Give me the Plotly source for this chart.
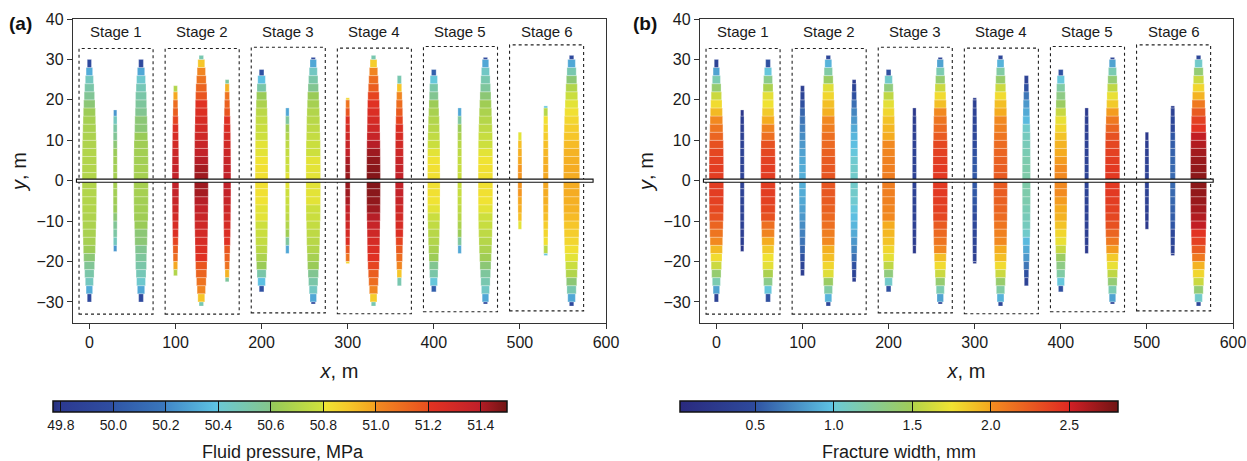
import plotly.graph_objects as go

# ---------------- data ----------------
stage_names = ["Stage 1", "Stage 2", "Stage 3", "Stage 4", "Stage 5", "Stage 6"]
stage_x = [0, 100, 200, 300, 400, 500]          # m, first fracture of each stage
frac_offset = [0, 30, 60]                        # m, fracture spacing inside a stage
half_length = [[30, 17.5, 30], [23.5, 31, 25], [27.5, 18, 30.5],
               [20.5, 31, 26], [27.5, 18, 30.5], [12, 18.5, 31]]
level_step = 2.0   # m, values below are given for |y| in [0,2), [2,4), ... up to the tip

# fluid pressure (MPa), centre -> tip
pressure = [
    [[50.70, 50.70, 50.70, 50.70, 50.69, 50.68, 50.67, 50.66, 50.63, 50.60, 50.57, 50.52, 50.46, 50.32, 49.95],
     [50.66, 50.65, 50.64, 50.62, 50.60, 50.57, 50.53, 50.46, 50.25],
     [50.66, 50.66, 50.65, 50.65, 50.64, 50.62, 50.60, 50.60, 50.58, 50.55, 50.52, 50.48, 50.42, 50.30, 49.95]],
    [[51.38, 51.37, 51.35, 51.33, 51.30, 51.27, 51.24, 51.20, 51.15, 51.10, 50.98, 50.70],
     [51.43, 51.42, 51.40, 51.38, 51.35, 51.32, 51.30, 51.27, 51.24, 51.22, 51.18, 51.13, 51.08, 51.02, 50.90, 50.50],
     [51.38, 51.37, 51.35, 51.33, 51.30, 51.28, 51.25, 51.22, 51.18, 51.14, 51.08, 50.95, 50.55]],
    [[50.82, 50.82, 50.81, 50.80, 50.80, 50.79, 50.78, 50.76, 50.73, 50.68, 50.62, 50.52, 50.38, 50.00],
     [50.80, 50.79, 50.78, 50.76, 50.74, 50.70, 50.64, 50.55, 50.30],
     [50.80, 50.80, 50.80, 50.79, 50.78, 50.76, 50.74, 50.72, 50.70, 50.66, 50.62, 50.58, 50.52, 50.45, 50.30, 49.95]],
    [[51.44, 51.43, 51.41, 51.38, 51.35, 51.32, 51.28, 51.24, 51.18, 51.08, 50.85],
     [51.47, 51.46, 51.45, 51.43, 51.40, 51.36, 51.32, 51.28, 51.25, 51.22, 51.20, 51.15, 51.10, 51.02, 50.88, 50.50],
     [51.38, 51.37, 51.35, 51.32, 51.30, 51.27, 51.24, 51.20, 51.16, 51.10, 51.02, 50.90, 50.50]],
    [[50.82, 50.82, 50.81, 50.80, 50.78, 50.75, 50.72, 50.70, 50.67, 50.63, 50.58, 50.52, 50.40, 50.05],
     [50.78, 50.77, 50.76, 50.74, 50.72, 50.68, 50.62, 50.55, 50.30],
     [50.82, 50.82, 50.81, 50.80, 50.79, 50.77, 50.74, 50.71, 50.68, 50.64, 50.60, 50.55, 50.50, 50.44, 50.30, 49.95]],
    [[51.00, 51.00, 50.98, 50.96, 50.92, 50.80],
     [50.98, 50.97, 50.96, 50.94, 50.92, 50.88, 50.85, 50.82, 50.72, 50.40],
     [50.97, 50.97, 50.96, 50.95, 50.93, 50.90, 50.88, 50.85, 50.82, 50.80, 50.78, 50.70, 50.60, 50.50, 50.30, 49.95]],
]

# fracture width (mm), centre -> tip
aperture = [
    [[2.40, 2.40, 2.38, 2.35, 2.30, 2.20, 2.12, 2.02, 1.92, 1.78, 1.60, 1.40, 1.15, 0.85, 0.40],
     [0.38, 0.38, 0.37, 0.37, 0.36, 0.35, 0.33, 0.30, 0.22],
     [2.40, 2.40, 2.38, 2.35, 2.30, 2.15, 2.05, 1.98, 1.85, 1.75, 1.70, 1.50, 1.30, 1.00, 0.50]],
    [[0.90, 0.89, 0.87, 0.84, 0.80, 0.75, 0.70, 0.64, 0.57, 0.50, 0.42, 0.33],
     [2.28, 2.27, 2.25, 2.22, 2.18, 2.15, 2.08, 2.02, 1.96, 1.90, 1.80, 1.68, 1.45, 1.20, 0.92, 0.45],
     [1.05, 1.05, 1.03, 1.00, 0.97, 0.93, 0.88, 0.80, 0.72, 0.62, 0.50, 0.40, 0.32]],
    [[2.08, 2.07, 2.06, 2.04, 2.02, 1.98, 1.93, 1.88, 1.80, 1.70, 1.55, 1.35, 1.05, 0.50],
     [0.38, 0.38, 0.37, 0.37, 0.36, 0.35, 0.33, 0.30, 0.24],
     [2.42, 2.42, 2.40, 2.38, 2.35, 2.25, 2.18, 2.12, 2.02, 1.90, 1.78, 1.60, 1.40, 1.15, 0.85, 0.40]],
    [[0.52, 0.52, 0.51, 0.50, 0.49, 0.47, 0.45, 0.42, 0.38, 0.34, 0.27],
     [2.25, 2.24, 2.22, 2.20, 2.17, 2.12, 2.06, 2.02, 1.98, 1.90, 1.78, 1.60, 1.42, 1.20, 0.92, 0.45],
     [1.18, 1.17, 1.16, 1.14, 1.12, 1.10, 1.05, 0.95, 0.88, 0.80, 0.65, 0.50, 0.38]],
    [[2.02, 2.01, 2.00, 1.98, 1.95, 1.88, 1.80, 1.72, 1.58, 1.45, 1.32, 1.20, 1.00, 0.50],
     [0.40, 0.40, 0.39, 0.38, 0.37, 0.36, 0.34, 0.31, 0.25],
     [2.42, 2.42, 2.40, 2.38, 2.35, 2.30, 2.20, 2.10, 2.00, 1.85, 1.72, 1.55, 1.38, 1.15, 0.85, 0.40]],
    [[0.38, 0.37, 0.36, 0.34, 0.30, 0.24],
     [0.60, 0.59, 0.58, 0.56, 0.54, 0.51, 0.47, 0.43, 0.37, 0.30],
     [2.72, 2.70, 2.68, 2.65, 2.60, 2.55, 2.45, 2.38, 2.25, 2.10, 1.95, 1.80, 1.60, 1.38, 1.05, 0.45]],
]

box_top = [32.7, 32.7, 33.0, 32.8, 33.2, 33.6]
box_bottom = [-33.0, -33.0, -32.7, -32.9, -32.4, -32.2]

pressure_ticks = [49.8, 50.0, 50.2, 50.4, 50.6, 50.8, 51.0, 51.2, 51.4]
width_ticks = [0.5, 1.0, 1.5, 2.0, 2.5]

# ---------------- style ----------------
FONT = "Liberation Sans, Arial, Helvetica, sans-serif"
W_BASE, W_PER_MM = 2.5, 6.0     # drawn cell width (m on x axis) from fracture width
BOX_L, BOX_R = -12, 74          # dashed stage box extents relative to stage start
LABEL_DX, LABEL_Y = 31, 36.8

cs_pressure = [
    [0.000, "#27307a"], [0.017, "#2c3a91"], [0.132, "#2f4ea1"], [0.136, "#3057a7"],
    [0.247, "#3a78bd"], [0.251, "#4289c8"], [0.362, "#5ec5e4"], [0.366, "#6cc8d3"],
    [0.478, "#84c58b"], [0.482, "#95c95a"], [0.593, "#cfe03c"], [0.597, "#f0e534"],
    [0.650, "#f6c82a"], [0.709, "#f5a21f"], [0.713, "#f28a21"], [0.825, "#e8501f"],
    [0.829, "#e33322"], [0.940, "#c0202a"], [0.944, "#b01c24"], [1.000, "#701414"],
]
cs_width = [
    [0.000, "#2a2a7e"], [0.170, "#2e4a9c"], [0.174, "#3055a4"], [0.349, "#5ec4e4"],
    [0.353, "#6ccad6"], [0.528, "#a0cc58"], [0.532, "#b4d449"], [0.620, "#f0e232"],
    [0.708, "#f5a81e"], [0.712, "#f28c20"], [0.887, "#e02a22"], [0.891, "#d01f25"],
    [1.000, "#701414"],
]


def build_cells(values):
    xs, bases, hs, ws, cs = [], [], [], [], []
    for s in range(len(stage_x)):
        for f in range(len(frac_offset)):
            xc = stage_x[s] + frac_offset[f]
            L = half_length[s][f]
            for k, (v, a) in enumerate(zip(values[s][f], aperture[s][f])):
                lo = k * level_step
                hi = min((k + 1) * level_step, L)
                for b0 in (lo, -hi):
                    xs.append(xc)
                    bases.append(b0)
                    hs.append(hi - lo)
                    ws.append(W_BASE + W_PER_MM * a)
                    cs.append(v)
    return xs, bases, hs, ws, cs


fig = go.Figure()
for values, ax, cax in ((pressure, "", "coloraxis"), (aperture, "2", "coloraxis2")):
    xs, bases, hs, ws, cs = build_cells(values)
    fig.add_trace(go.Bar(
        x=xs, y=hs, base=bases, width=ws,
        marker=dict(color=cs, coloraxis=cax,
                    line=dict(color="rgba(255,255,255,0.55)", width=0.5)),
        xaxis="x" + ax, yaxis="y" + ax, hoverinfo="skip", showlegend=False,
    ))

W, H = 1247, 461
ydom = [1 - 323 / H, 1 - 19 / H]
axis_common = dict(showline=True, mirror=True, linecolor="#333333", linewidth=1.3,
                   ticks="outside", ticklen=5, tickwidth=1.2, tickcolor="#333333",
                   showgrid=False, zeroline=False, automargin=False,
                   tickfont=dict(size=16, color="#1a1a1a", family=FONT))


def colorbar(xc, length, ticks):
    return dict(orientation="h", x=xc / W, xanchor="center", y=1 - 401 / H, yanchor="top",
                len=length / W, lenmode="fraction", thickness=11, thicknessmode="pixels",
                xpad=0, ypad=0, outlinewidth=1.5, outlinecolor="#111111",
                tickvals=ticks, ticktext=[f"{v:.1f}" for v in ticks],
                ticks="inside", ticklen=11, tickwidth=1.2, tickcolor="#111111",
                tickfont=dict(size=14, family=FONT, color="#1a1a1a"))


layout = dict(
    width=W, height=H, margin=dict(l=0, r=0, t=0, b=0, autoexpand=False),
    paper_bgcolor="white", plot_bgcolor="white", barmode="overlay",
    font=dict(family=FONT, color="#1a1a1a"),
    xaxis=dict(domain=[73 / W, 606 / W], range=[-19, 600], dtick=100, anchor="y",
               title=dict(text="<i>x</i>, m", font=dict(size=20), standoff=13), **axis_common),
    yaxis=dict(domain=ydom, range=[-35.2, 40], dtick=10, anchor="x",
               title=dict(text="<i>y</i>, m", font=dict(size=20), standoff=4), **axis_common),
    xaxis2=dict(domain=[700 / W, 1233 / W], range=[-19, 600], dtick=100, anchor="y2",
                title=dict(text="<i>x</i>, m", font=dict(size=20), standoff=13), **axis_common),
    yaxis2=dict(domain=ydom, range=[-35.2, 40], dtick=10, anchor="x2",
                title=dict(text="<i>y</i>, m", font=dict(size=20), standoff=4), **axis_common),
    coloraxis=dict(colorscale=cs_pressure, cmin=49.77, cmax=51.50,
                   colorbar=colorbar(280, 454, pressure_ticks)),
    coloraxis2=dict(colorscale=cs_width, cmin=0.02, cmax=2.81,
                    colorbar=colorbar(899, 438, width_ticks)),
)
fig.update_layout(**layout)

shapes, annotations = [], []
well_end = {"": 585, "2": 577}
for ax in ("", "2"):
    for s, name in enumerate(stage_names):
        shapes.append(dict(type="rect", xref="x" + ax, yref="y" + ax,
                           x0=stage_x[s] + BOX_L, x1=stage_x[s] + BOX_R,
                           y0=box_bottom[s], y1=box_top[s],
                           line=dict(color="#222222", width=1.1, dash="3px,3px"), layer="above"))
        annotations.append(dict(xref="x" + ax, yref="y" + ax, x=stage_x[s] + LABEL_DX, y=LABEL_Y,
                                text=name, showarrow=False, xanchor="center", yanchor="middle",
                                font=dict(size=15, family=FONT, color="#1a1a1a")))
    shapes.append(dict(type="rect", xref="x" + ax, yref="y" + ax, x0=-15, x1=well_end[ax],
                       y0=-0.4, y1=0.4, line=dict(color="#111111", width=1.1),
                       fillcolor="white", layer="above"))

for txt, xc in (("<b>(a)</b>", 20), ("<b>(b)</b>", 645)):
    annotations.append(dict(xref="paper", yref="paper", x=xc / W, y=1 - 23 / H, text=txt,
                            xanchor="center", yanchor="middle", showarrow=False,
                            font=dict(size=19, family=FONT, color="#111111")))
for txt, xc in (("Fluid pressure, MPa", 283), ("Fracture width, mm", 899)):
    annotations.append(dict(xref="paper", yref="paper", x=xc / W, y=1 - 452 / H, text=txt,
                            xanchor="center", yanchor="middle", showarrow=False,
                            font=dict(size=18, family=FONT, color="#1a1a1a")))
fig.update_layout(shapes=shapes, annotations=annotations)

fig.write_html("out.html", config={"displayModeBar": False},
               post_script="document.body.style.margin='0px';"
                           "document.body.style.overflow='hidden';")
